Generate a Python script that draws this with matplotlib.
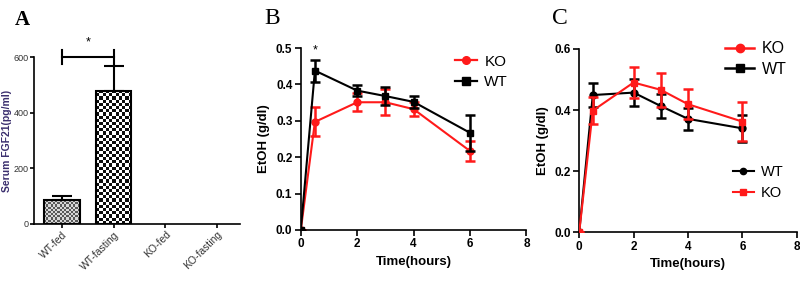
import numpy as np
import matplotlib
matplotlib.use("Agg")
import matplotlib.pyplot as plt
from matplotlib.lines import Line2D

plt.rcParams['font.family'] = ['Liberation Sans', 'DejaVu Sans']

# Panel A data
groups = ["WT-fed", "WT-fasting", "KO-fed", "KO-fasting"]
fgf21 = [86, 480, 0, 0]
fgf21_err = [15, 88, 0, 0]

# Panel B data
time_b = [0, 0.5, 2, 3, 4, 6]
b_ko = [0.0, 0.297, 0.351, 0.351, 0.332, 0.217]
b_ko_err = [0.0, 0.04, 0.025, 0.036, 0.02, 0.028]
b_wt = [0.0, 0.438, 0.383, 0.368, 0.352, 0.267]
b_wt_err = [0.0, 0.03, 0.016, 0.025, 0.017, 0.05]

# Panel C data
time_c = [0, 0.5, 2, 3, 4, 6]
c_wt = [0.0, 0.449, 0.457, 0.413, 0.371, 0.340]
c_wt_err = [0.0, 0.04, 0.045, 0.04, 0.037, 0.045]
c_ko = [0.0, 0.398, 0.490, 0.466, 0.419, 0.362]
c_ko_err = [0.0, 0.045, 0.052, 0.056, 0.049, 0.063]

RED = "#ff1a1a"

fig = plt.figure(figsize=(8, 2.86), dpi=100)

# ---------- Panel A ----------
axA = fig.add_axes([0.0425, 0.217, 0.2575, 0.583])
x = np.arange(len(groups))
bars = axA.bar(x, fgf21, width=0.68, color="none", edgecolor="black", linewidth=1.5, zorder=2)
for b in bars[2:]:
    b.set_visible(False)
axA.errorbar(x[:2], fgf21[:2], yerr=[[0, 0], fgf21_err[:2]], fmt="none",
             ecolor="black", elinewidth=1.5, capsize=7, capthick=1.5, zorder=3)

def checker(n_x, n_y, light, dark):
    arr = np.indices((n_y, n_x)).sum(axis=0) % 2
    return np.where(arr[..., None] == 1, np.array(dark), np.array(light))

for b, cell, light, dark in [(bars[0], 2.2, (0.85, 0.85, 0.85), (0.35, 0.35, 0.35)),
                             (bars[1], 3.2, (1, 1, 1), (0.05, 0.05, 0.05))]:
    bx, by = b.get_x(), b.get_y()
    bw, bh = b.get_width(), b.get_height()
    nx = int(round(35 / cell))
    ny = max(1, int(round(nx * (bh / 600 * 167) / 35)))
    img = checker(nx, ny, light, dark)
    im = axA.imshow(img, extent=(bx, bx + bw, by, by + bh), aspect="auto",
                    interpolation="nearest", zorder=1)
    im.set_clip_path(b)

axA.set_xlim(-0.54, 3.44)
axA.set_ylim(0, 600)
axA.set_yticks([0, 200, 400, 600])
axA.set_xticks(x)
axA.set_xticklabels(groups, rotation=45, ha="right", rotation_mode="anchor",
                    fontsize=7.5, color="#333333")
for t in axA.get_yticklabels():
    t.set_fontsize(6.5)
    t.set_color("#333333")
axA.spines[["top", "right"]].set_visible(False)
axA.spines[["left", "bottom"]].set_linewidth(1.2)
axA.tick_params(length=3, width=1.2, pad=1)
axA.set_ylabel("Serum FGF21(pg/ml)", fontsize=7.5, fontweight="bold", color="#3b2f6e")
axA.yaxis.set_label_coords(-0.105, 0.5)
# significance bracket
axA.plot([0, 1], [600, 600], color="black", lw=1.5, clip_on=False)
axA.plot([0, 0], [575, 625], color="black", lw=1.5, clip_on=False)
axA.plot([1, 1], [575, 625], color="black", lw=1.5, clip_on=False)
axA.text(0.5, 630, "*", ha="center", va="bottom", fontsize=9)
fig.text(0.018, 0.93, "A", fontsize=15, fontweight="bold", family="Liberation Serif", va="center")

# ---------- Panel B ----------
axB = fig.add_axes([0.376, 0.196, 0.282, 0.636])
axB.errorbar(time_b, b_ko, yerr=b_ko_err, color=RED, marker="o", markersize=5,
             lw=1.5, elinewidth=1.8, capsize=3.5, capthick=1.8, zorder=3)
axB.errorbar(time_b, b_wt, yerr=b_wt_err, color="black", marker="s", markersize=5,
             lw=1.5, elinewidth=1.8, capsize=3.5, capthick=1.8, zorder=4)
axB.set_xlim(0, 8)
axB.set_ylim(0, 0.5)
axB.set_xticks([0, 2, 4, 6, 8])
axB.set_yticks([0.0, 0.1, 0.2, 0.3, 0.4, 0.5])
axB.yaxis.set_major_formatter(matplotlib.ticker.FormatStrFormatter("%.1f"))
axB.text(0.5, 0.478, "*", ha="center", va="bottom", fontsize=9)
axB.spines[["top", "right"]].set_visible(False)
axB.spines[["left", "bottom"]].set_linewidth(1.2)
axB.tick_params(length=4, width=1.2, pad=2, labelsize=8.5)
for t in axB.get_xticklabels() + axB.get_yticklabels():
    t.set_fontweight("bold")
axB.set_xlabel("Time(hours)", fontsize=9.5, fontweight="bold", labelpad=4)
axB.set_ylabel("EtOH (g/dl)", fontsize=9.5, fontweight="bold", labelpad=4)
hbk = Line2D([], [], color=RED, marker="o", markersize=5.5, lw=1.6)
hbw = Line2D([], [], color="black", marker="s", markersize=5.5, lw=1.6)
axB.legend([hbk, hbw], ["KO", "WT"], loc="upper right", bbox_to_anchor=(0.98, 1.04),
           frameon=False, fontsize=11, handlelength=1.4, handletextpad=0.5, labelspacing=0.45)
fig.text(0.33, 0.935, "B", fontsize=17, family="Liberation Serif", va="center")

# ---------- Panel C ----------
axC = fig.add_axes([0.724, 0.188, 0.272, 0.641])
axC.errorbar(time_c, c_wt, yerr=c_wt_err, color="black", marker="o", markersize=5,
             lw=1.5, elinewidth=1.8, capsize=3.5, capthick=1.8, zorder=3)
axC.errorbar(time_c, c_ko, yerr=c_ko_err, color=RED, marker="s", markersize=5,
             lw=1.5, elinewidth=1.8, capsize=3.5, capthick=1.8, zorder=4)
axC.set_xlim(0, 8)
axC.set_ylim(0, 0.6)
axC.set_xticks([0, 2, 4, 6, 8])
axC.set_yticks([0.0, 0.2, 0.4, 0.6])
axC.yaxis.set_major_formatter(matplotlib.ticker.FormatStrFormatter("%.1f"))
axC.spines[["top", "right"]].set_visible(False)
axC.spines[["left", "bottom"]].set_linewidth(1.2)
axC.tick_params(length=4, width=1.2, pad=2, labelsize=8.5)
for t in axC.get_xticklabels() + axC.get_yticklabels():
    t.set_fontweight("bold")
axC.set_xlabel("Time(hours)", fontsize=9.5, fontweight="bold", labelpad=4)
axC.set_ylabel("EtOH (g/dl)", fontsize=9.5, fontweight="bold", labelpad=4)
# lower legend (actual series)
hcw = Line2D([], [], color="black", marker="o", markersize=4.5, lw=1.5)
hck = Line2D([], [], color=RED, marker="s", markersize=4.5, lw=1.5)
lgC2 = axC.legend([hcw, hck], ["WT", "KO"], loc="center right", bbox_to_anchor=(1.0, 0.27),
                  frameon=False, fontsize=10.5, handlelength=1.4, handletextpad=0.5,
                  labelspacing=0.45)
axC.add_artist(lgC2)
# upper legend
hk = Line2D([], [], color=RED, marker="o", markersize=6, lw=1.8)
hw = Line2D([], [], color="black", marker="s", markersize=6, lw=1.8)
axC.legend([hk, hw], ["KO", "WT"], loc="upper right", bbox_to_anchor=(1.02, 1.12),
           frameon=False, fontsize=11.5, handlelength=1.8, handletextpad=0.5, labelspacing=0.35)
fig.text(0.69, 0.935, "C", fontsize=17, family="Liberation Serif", va="center")

fig.savefig("out.png", dpi=100)
